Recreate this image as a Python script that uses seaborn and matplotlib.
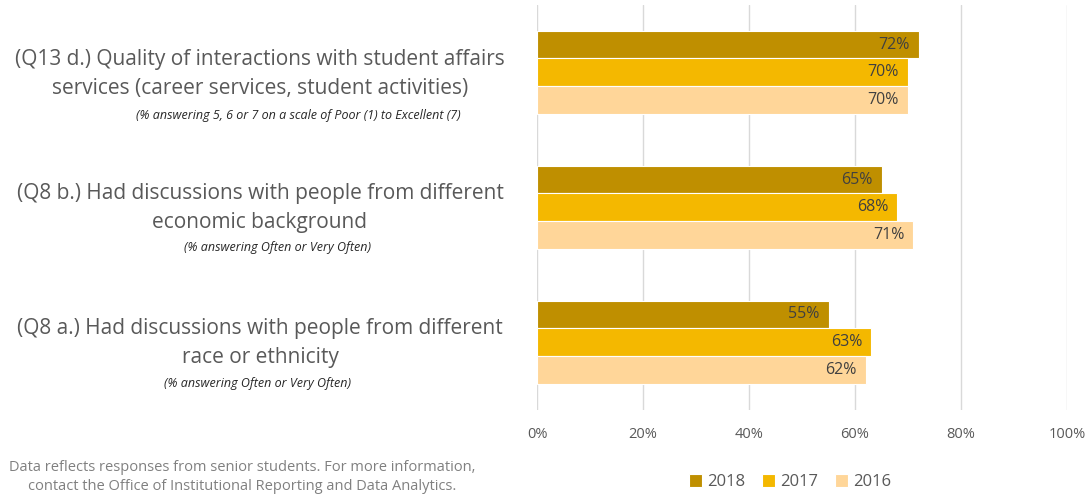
import pandas as pd
import matplotlib.pyplot as plt
import seaborn as sns

# data
questions = ["Q13d", "Q8b", "Q8a"]
years = ["2018", "2017", "2016"]
vals_2018 = [72, 65, 55]
vals_2017 = [70, 68, 63]
vals_2016 = [70, 71, 62]

main_labels = [
    "(Q13 d.) Quality of interactions with student affairs\nservices (career services, student activities)",
    "(Q8 b.) Had discussions with people from different\neconomic background",
    "(Q8 a.) Had discussions with people from different\nrace or ethnicity",
]
sub_labels = [
    "(% answering 5, 6 or 7 on a scale of Poor (1) to Excellent (7)",
    "(% answering Often or Very Often)",
    "(% answering Often or Very Often)",
]
footnote = ("Data reflects responses from senior students. For more information,\n"
            "contact the Office of Institutional Reporting and Data Analytics.")

df = pd.DataFrame({
    "question": questions * 3,
    "year": [y for y in years for _ in questions],
    "value": vals_2018 + vals_2017 + vals_2016,
})

palette = {"2018": "#BF8F00", "2017": "#F4B800", "2016": "#FFD699"}

sns.set_style("white")
plt.rcParams["font.family"] = ["Open Sans", "DejaVu Sans"]

fig = plt.figure(figsize=(10.88, 4.95), dpi=100)
ax = fig.add_axes([0.4936, 0.172, 0.4871, 0.818])

sns.barplot(data=df, y="question", x="value", hue="year", hue_order=years,
            order=questions, palette=palette, orient="h", width=0.62,
            saturation=1, edgecolor="white", linewidth=0.8, ax=ax)

for cont in ax.containers:
    ax.bar_label(cont, labels=[f"{v:.0f}%" for v in cont.datavalues],
                 padding=-29, color="#404040", fontsize=11.5)

ax.set_xlim(0, 100)
ax.set_xticks(range(0, 101, 20))
ax.set_xticklabels([f"{t}%" for t in range(0, 101, 20)], color="#595959", fontsize=10.5)
ax.tick_params(axis="x", length=0, pad=12)
ax.grid(axis="x", color="#D9D9D9", linewidth=1)
ax.set_axisbelow(True)
ax.set_yticks([])
ax.set_xlabel("")
ax.set_ylabel("")
for s in ax.spines.values():
    s.set_visible(False)

# category labels on the left
main_y = [74, 208, 343]
sub_y = [116, 248, 384]
sub_x = [298, 277, 258]
for i in range(3):
    fig.text(260 / 1088, 1 - main_y[i] / 495, main_labels[i], ha="center", va="center",
             fontsize=15, color="#595959", linespacing=1.55)
    fig.text(sub_x[i] / 1088, 1 - sub_y[i] / 495, sub_labels[i], ha="center", va="center",
             fontsize=9, style="italic", color="#262626")

fig.text(242 / 1088, 1 - 477 / 495, footnote, ha="center", va="center",
         fontsize=10.5, color="#808080", linespacing=1.3)

ax.legend(loc="center", bbox_to_anchor=(790 / 1088, 1 - 482 / 495),
          bbox_transform=fig.transFigure, ncol=3, frameon=False,
          handlelength=0.8, handleheight=0.8, handletextpad=0.3, columnspacing=1.0,
          fontsize=12, labelcolor="#595959")

fig.savefig("out.png", dpi=100)
